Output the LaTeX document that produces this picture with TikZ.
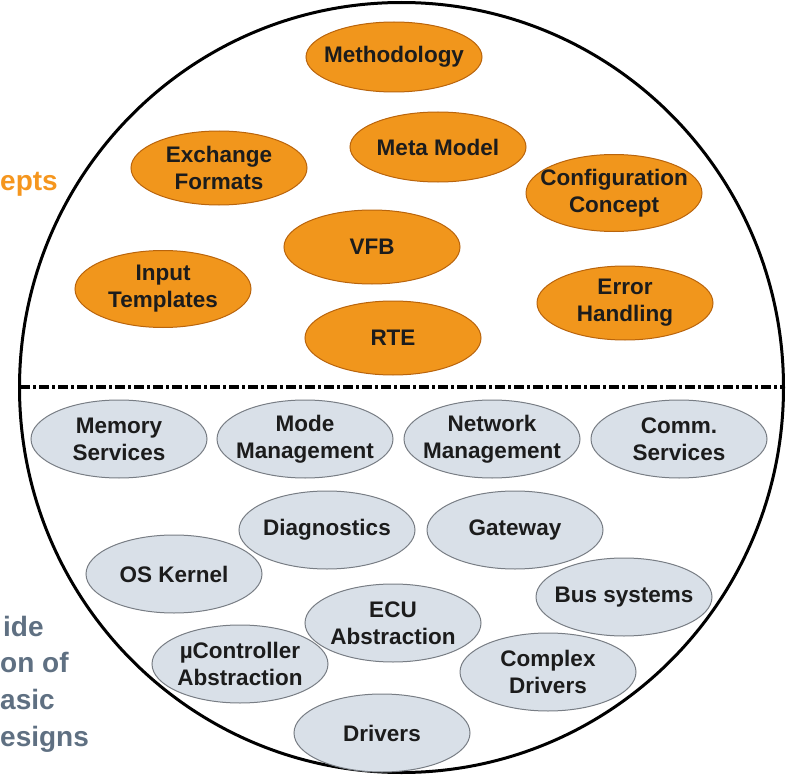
\documentclass[tikz,border=0pt]{standalone}
\usepackage{fontspec}
\setmainfont{Liberation Sans}
\usetikzlibrary{shapes.geometric}
\definecolor{orfill}{RGB}{241,150,28}
\definecolor{ordraw}{RGB}{185,100,12}
\definecolor{gyfill}{RGB}{217,224,232}
\definecolor{gydraw}{RGB}{120,125,132}
\definecolor{txt}{RGB}{28,28,28}
\definecolor{ortxt}{RGB}{245,150,30}
\definecolor{bltxt}{RGB}{95,112,130}
\tikzset{
  lbl/.style={align=center, text=txt, inner sep=0pt, font=\fontsize{22.5}{27}\selectfont\bfseries},
  txtin/.style={label={[lbl]center:{#1}}},
  base/.style={ellipse, inner sep=0pt, minimum width=176pt, minimum height=74pt, line width=1pt},
  concept/.style={base, fill=orfill, draw=ordraw},
  module/.style={base, fill=gyfill, draw=gydraw, minimum height=78pt},
  sidetxt/.style={anchor=base west, inner sep=0pt, font=\fontsize{28}{32}\selectfont\bfseries}
}
\begin{document}
\begin{tikzpicture}[x=1pt,y=-1pt]
\useasboundingbox (0,0) rectangle (788,776);
% big circle
\draw[line width=3pt] (401.5,387.5) ellipse [x radius=382, y radius=385];
\coordinate (dl) at (20,387);
\coordinate (dr) at (783,387);
\draw[line width=3.4pt, dash pattern=on 10pt off 3pt on 3pt off 3pt] (dl) -- (dr);
% side texts
\node[sidetxt, text=ortxt] (cpt) at (0,190) {epts};
\node[sidetxt, text=bltxt] (s1) at (3,636) {ide};
\node[sidetxt, text=bltxt] (s2) at (0,672) {on of};
\node[sidetxt, text=bltxt] (s3) at (0,709) {asic};
\node[sidetxt, text=bltxt] (s4) at (0,746) {esigns};
% concepts
\node[concept, minimum height=70pt, txtin={Methodology}] (meth) at (394,57) {};
\node[concept, minimum height=70pt, txtin={Meta Model}] (meta) at (438,147) {};
\node[concept, txtin={Exchange\\Formats}] (exch) at (219,168) {};
\node[concept, minimum height=77pt, txtin={Configuration\\Concept}] (conf) at (614,193) {};
\node[concept, txtin={VFB}] (vfb) at (372,247) {};
\node[concept, minimum height=77pt, txtin={Input\\Templates}] (inp) at (163,289) {};
\node[concept, txtin={Error\\Handling}] (err) at (625,303) {};
\node[concept, txtin={RTE}] (rte) at (393,338) {};
% modules
\node[module, txtin={Memory\\Services}] (mem) at (119,439) {};
\node[module, txtin={Mode\\Management}] (mode) at (305,439) {};
\node[module, txtin={Network\\Management}] (net) at (492,439) {};
\node[module, txtin={Comm.\\Services}] (comm) at (679,439) {};
\node[module, txtin={Diagnostics}] (diag) at (327,530) {};
\node[module, txtin={Gateway}] (gate) at (515,530) {};
\node[module, txtin={OS Kernel}] (os) at (174,574) {};
\node[module, txtin={Bus systems}] (bus) at (624,597) {};
\node[module, txtin={ECU\\Abstraction}] (ecu) at (393,623) {};
\node[module, txtin={µController\\Abstraction}] (uc) at (240,664) {};
\node[module, txtin={Complex\\Drivers}] (cplx) at (548,672) {};
\node[module, txtin={Drivers}] (drv) at (382,733) {};
\end{tikzpicture}
\end{document}
